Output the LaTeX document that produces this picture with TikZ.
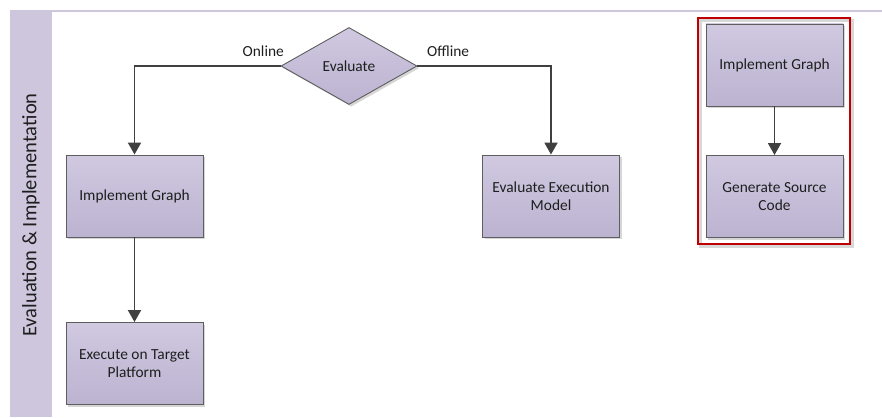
\documentclass[tikz,border=0pt]{standalone}
\usepackage{fontspec}
\setmainfont{Carlito}
\usetikzlibrary{arrows.meta,shapes.geometric,shadows}

\definecolor{lane}{HTML}{CDC6DD}
\definecolor{boxtop}{HTML}{D0C9E0}
\definecolor{boxbot}{HTML}{BCB3D1}
\definecolor{boxline}{HTML}{5E5E5E}
\definecolor{conn}{HTML}{404040}
\definecolor{txt}{HTML}{1E1E1E}
\definecolor{framered}{HTML}{C00000}
\definecolor{framegray}{HTML}{D8D8D8}

\tikzset{
  boxshadow/.style={drop shadow={shadow xshift=2.2pt, shadow yshift=-2.2pt, fill=black!16, opacity=1}},
  procbox/.style={rectangle, draw=boxline, line width=0.9pt,
    top color=boxtop, bottom color=boxbot, boxshadow,
    minimum width=137pt, minimum height=82pt, inner sep=2pt,
    align=center, text=txt, font=\fontsize{15.4}{18.5}\selectfont},
  decision/.style={diamond, draw=boxline, line width=0.9pt,
    top color=boxtop, bottom color=boxbot, boxshadow,
    minimum width=136pt, minimum height=77pt, inner sep=0pt, aspect=1.77,
    text=txt, font=\fontsize{15.4}{18.5}\selectfont},
  branchlabel/.style={text=txt, inner sep=0pt, font=\fontsize{15.4}{18.5}\selectfont},
  flow/.style={draw=conn, line width=1.9pt,
    -{Triangle[width=13pt,length=12pt]}},
}

\begin{document}
\begin{tikzpicture}[x=1pt,y=-1pt]
  \useasboundingbox (0,0) rectangle (882,417);

  % swimlane header strip and top border
  \fill[lane] (10,10) rectangle (52,417);
  \fill[lane] (52,10) rectangle (882,12);
  \node[rotate=90, text=txt, inner sep=0pt,
        font=\fontsize{20.5}{24}\selectfont] (lanetitle) at (31,215)
        {Evaluation \& Implementation};

  % highlight frame around the right-hand group (outline shadow first)
  \draw[draw=framegray, line width=2.8pt] (700.5,20.5) rectangle (852.5,246.5);
  \draw[draw=framered, line width=2.8pt] (698,18) rectangle (850,244);

  % decision and process steps
  \node[decision] (eval) at (349,66) {Evaluate};
  \node[procbox] (impl) at (134.5,196) {Implement Graph};
  \node[procbox] (exec) at (134.5,363.5) {Execute on Target\\Platform};
  \node[procbox] (model) at (551,196) {Evaluate Execution\\Model};

  % highlighted group on the right
  \node[procbox] (impl2) at (774.5,65) {Implement Graph};
  \node[procbox] (gen) at (774.5,196.5) {Generate Source\\Code};

  % branch labels
  \node[branchlabel, anchor=base east] (online) at (284,57) {Online};
  \node[branchlabel, anchor=base west] (offline) at (427,57) {Offline};

  % connectors
  \draw[flow] (eval.west) -| (impl.north);
  \draw[flow] (eval.east) -| (model.north);
  \draw[flow] (impl.south) -- (exec.north);
  \draw[flow] (impl2.south) -- (gen.north);
\end{tikzpicture}
\end{document}
